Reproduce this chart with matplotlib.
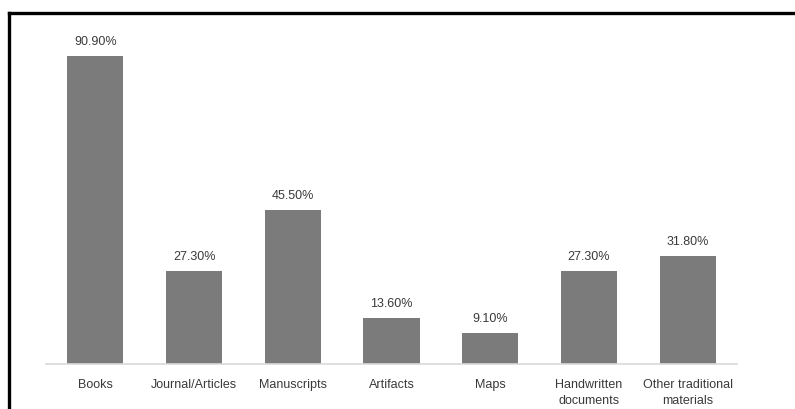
import matplotlib
matplotlib.use("Agg")
import matplotlib.pyplot as plt
from matplotlib.lines import Line2D

categories = ["Books", "Journal/Articles", "Manuscripts", "Artifacts", "Maps",
              "Handwritten\ndocuments", "Other traditional\nmaterials"]
values = [90.90, 27.30, 45.50, 13.60, 9.10, 27.30, 31.80]

plt.rcParams["font.family"] = ["Liberation Sans", "DejaVu Sans"]

W, H = 795, 410
fig = plt.figure(figsize=(W / 100, H / 100), dpi=100)
ax = fig.add_axes([46 / W, (H - 365) / H, (737 - 46) / W, (365 - 26) / H])

x = range(len(categories))
bars = ax.bar(x, values, width=0.57, color="#7b7b7b", zorder=2)
for xi, v in zip(x, values):
    ax.annotate(f"{v:.2f}%", (xi, v), xytext=(0, 6.5), textcoords="offset points",
                ha="center", va="bottom", fontsize=9, color="#3a3a3a")

ax.set_xlim(-0.5, len(categories) - 0.5)
ax.set_ylim(0, 100)
ax.set_xticks(list(x))
ax.set_xticklabels(categories, fontsize=9, color="#3a3a3a", linespacing=1.45)
ax.tick_params(axis="x", length=0, pad=10)
ax.set_yticks([])
for side in ("top", "right", "left"):
    ax.spines[side].set_visible(False)
ax.spines["bottom"].set_color("#d9d9d9")
ax.spines["bottom"].set_linewidth(1.2)

# open frame along the top and left edges
fig.add_artist(Line2D([8.5 / W, 1.0], [(H - 14) / H, (H - 14) / H],
                      transform=fig.transFigure, color="black", linewidth=2.4))
fig.add_artist(Line2D([8.5 / W, 8.5 / W], [0.0, (H - 14) / H],
                      transform=fig.transFigure, color="black", linewidth=2.4))

fig.savefig("out.png", dpi=100)
